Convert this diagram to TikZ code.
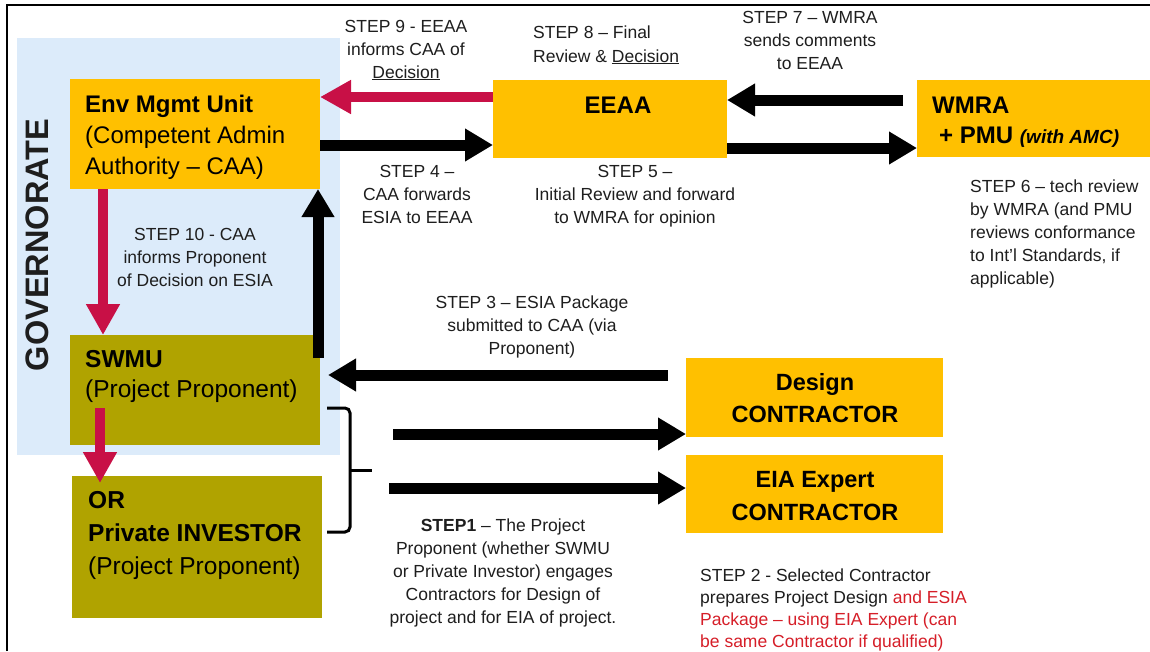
\documentclass[tikz,border=0pt]{standalone}
\usepackage{fontspec}
\setmainfont{Liberation Sans}
\usetikzlibrary{arrows.meta}
\definecolor{boxor}{RGB}{255,192,0}
\definecolor{boxol}{RGB}{176,163,0}
\definecolor{govblue}{RGB}{220,235,250}
\definecolor{arred}{RGB}{200,16,70}
\definecolor{txtred}{RGB}{214,30,40}
\definecolor{txt}{RGB}{30,30,30}
\newcommand{\ttab}[2]{\begin{tabular}[t]{@{}#1@{}}#2\end{tabular}}
\begin{document}
\begin{tikzpicture}[x=1pt,y=-1pt,
  obox/.style={fill=boxor, draw=none, anchor=north west, inner sep=0pt, outer sep=0pt},
  olbox/.style={fill=boxol, draw=none, anchor=north west, inner sep=0pt, outer sep=0pt},
  btxt/.style={inner sep=0pt, text=black, font=\fontsize{24.5}{31}\selectfont},
  lbl/.style={inner sep=0pt, text=txt, anchor=base, font=\fontsize{17.5}{23}\selectfont},
  blkarr/.style={draw=black, line width=11pt, -{Triangle[length=28pt,width=31pt]}},
  redarr/.style={draw=arred, line width=10pt, -{Triangle[length=31pt,width=32pt]}},
  brace/.style={draw=black, line width=3pt, rounded corners=5pt}
]
\useasboundingbox (0,0) rectangle (1150,651);
\fill[white] (0,0) rectangle (1150,651);
% frame
\draw[line width=2.5pt] (7,651) -- (7,5) -- (1150,5);
% governorate area
\node[fill=govblue, anchor=north west, inner sep=0pt, minimum width=323pt, minimum height=417pt] (govrect) at (17,38) {};
\node[inner sep=0pt, rotate=90, font=\fontsize{32.5}{36}\selectfont\bfseries, text=txt] (gov) at (37,245) {GOVERNORATE};
% boxes
\node[obox, minimum width=250pt, minimum height=110pt] (env) at (70,79) {};
\node[obox, minimum width=234pt, minimum height=78pt] (eeaa) at (493,80) {};
\node[obox, minimum width=233pt, minimum height=77pt] (wmra) at (917,80) {};
\node[olbox, minimum width=250pt, minimum height=110pt] (swmu) at (70,335) {};
\node[olbox, minimum width=250pt, minimum height=142pt] (inv) at (72,476) {};
\node[obox, minimum width=257pt, minimum height=79pt] (design) at (686,358) {};
\node[obox, minimum width=257pt, minimum height=78pt] (eia) at (686,455) {};
% box texts
\node[btxt, font=\fontsize{24}{31}\selectfont, anchor=base west] (envt) at (85,112) {\ttab{l}{\textbf{Env Mgmt Unit}\\(Competent Admin\\Authority – CAA)}};
\node[btxt, font=\fontsize{24}{31}\selectfont\bfseries, anchor=base] (eeaat) at (618,113) {EEAA};
\node[btxt, font=\fontsize{24}{30}\selectfont\bfseries, anchor=base west] (wmrat) at (932,113) {\ttab{l}{WMRA\\\hspace{7pt}+ PMU {\fontsize{19}{30}\selectfont\itshape (with AMC)}}};
\node[btxt, font=\fontsize{24.5}{30}\selectfont, anchor=base west] (swmut) at (85,367) {\ttab{l}{\textbf{SWMU}\\(Project Proponent)}};
\node[btxt, font=\fontsize{24.5}{33}\selectfont, anchor=base west] (invt) at (88,508) {\ttab{l}{\textbf{OR}\\\textbf{Private INVESTOR}\\(Project Proponent)}};
\node[btxt, font=\fontsize{23.5}{32}\selectfont\bfseries, anchor=base] (designt) at (815,390) {\ttab{c}{Design\\CONTRACTOR}};
\node[btxt, font=\fontsize{23.5}{33}\selectfont\bfseries, anchor=base] (eiat) at (815,487) {\ttab{c}{EIA Expert\\CONTRACTOR}};
% helper coordinates
\coordinate (y97) at (0,97);
\coordinate (y145) at (0,145);
\coordinate (y148) at (0,148);
\coordinate (x103) at (103,0);
\coordinate (x318) at (318,0);
\coordinate (s7tail) at (903,100);
\coordinate (s3tail) at (668,375);
\coordinate (s3tip) at (328,375);
\coordinate (upTail) at (318,358);
\coordinate (orTail) at (100,408);
\coordinate (orTip) at (100,483);
\coordinate (c1tail) at (393,434);
\coordinate (c2tail) at (389,488);
% arrows
\draw[redarr] (eeaa.west |- y97) -- (env.east |- y97);
\draw[blkarr] (env.east |- y145) -- (eeaa.west |- y145);
\draw[blkarr] (s7tail) -- (eeaa.east |- s7tail);
\draw[blkarr] (eeaa.east |- y148) -- (wmra.west |- y148);
\draw[redarr] (env.south -| x103) -- (swmu.north -| x103);
\draw[blkarr] (upTail) -- (env.south -| x318);
\draw[blkarr] (s3tail) -- (s3tip);
\draw[redarr] (orTail) -- (orTip);
\draw[blkarr] (c1tail) -- (design.west |- c1tail);
\draw[blkarr] (c2tail) -- (eia.west |- c2tail);
% brace
\draw[brace] (327,408) -- (350,408) -- (350,532) -- (327,532);
\draw[draw=black, line width=3pt] (350,470) -- (372,470);
% labels
\node[lbl] (s9) at (406,32) {\ttab{c}{STEP 9 - EEAA\\informs CAA of\\\underline{Decision}}};
\node[lbl, anchor=base west, font=\fontsize{17.5}{24}\selectfont] (s8) at (533,38) {\ttab{l}{STEP 8 – Final\\Review \& \underline{Decision}}};
\node[lbl] (s7) at (810,23) {\ttab{c}{STEP 7 – WMRA\\sends comments\\to EEAA}};
\node[lbl] (s4) at (417,177) {\ttab{c}{STEP 4 –\\CAA forwards\\ESIA to EEAA}};
\node[lbl] (s5) at (635,177) {\ttab{c}{STEP 5 –\\Initial Review and forward\\to WMRA for opinion}};
\node[lbl, anchor=base west] (s6) at (970,192) {\ttab{l}{STEP 6 – tech review\\by WMRA (and PMU\\reviews conformance\\to Int'l Standards, if\\applicable)}};
\node[lbl] (s10) at (195,240) {\ttab{c}{STEP 10 - CAA\\informs Proponent\\of Decision on ESIA}};
\node[lbl] (s3) at (532,308) {\ttab{c}{STEP 3 – ESIA Package\\submitted to CAA (via\\Proponent)}};
\node[lbl] (s1) at (503,531) {\ttab{c}{\textbf{STEP1} – The Project\\Proponent (whether SWMU\\or Private Investor) engages\\Contractors for Design of\\project and for EIA of project.}};
\node[lbl, anchor=base west, font=\fontsize{17.5}{22}\selectfont] (s2) at (700,581) {\ttab{l}{STEP 2 - Selected Contractor\\prepares Project Design \textcolor{txtred}{and ESIA}\\\textcolor{txtred}{Package – using EIA Expert (can}\\\textcolor{txtred}{be same Contractor if qualified)}}};
\end{tikzpicture}
\end{document}
